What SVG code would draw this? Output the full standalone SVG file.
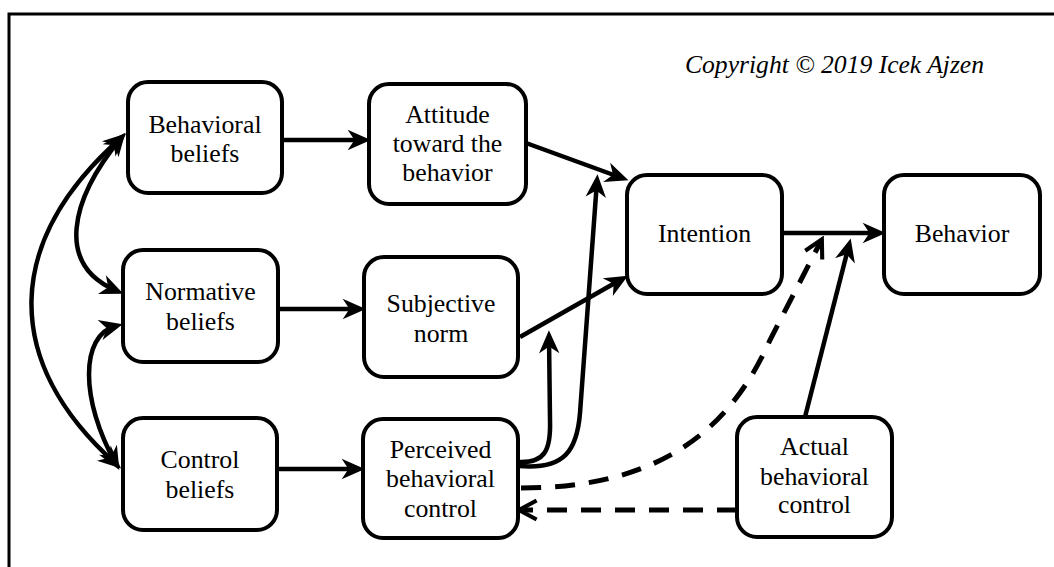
<svg xmlns="http://www.w3.org/2000/svg" width="1054" height="567" viewBox="0 0 1054 567">
<style>
.box{fill:#fff;stroke:#000;stroke-width:4}
.lbl{font-family:'Liberation Serif','Times New Roman',serif;font-size:25.8px;fill:#000;text-anchor:middle}
.c{fill:none;stroke:#000;stroke-width:4.5}
.d{fill:none;stroke:#000;stroke-width:5;stroke-dasharray:20 14}
</style>
<defs>
<marker id="ah" markerUnits="userSpaceOnUse" markerWidth="30" markerHeight="30" viewBox="-16 -10 22 20" refX="0" refY="0" orient="auto-start-reverse">
<path d="M5,0 L-12,-7.5 L-7,0 L-12,7.5 Z" fill="#000"/>
</marker>
<marker id="ao" markerUnits="userSpaceOnUse" markerWidth="30" markerHeight="30" viewBox="-16 -10 22 20" refX="0" refY="0" orient="auto">
<path d="M-10,-7 L3,0 L-10,7" fill="none" stroke="#000" stroke-width="3"/>
</marker>
</defs>
<rect width="1054" height="567" fill="#fff"/>
<rect x="9" y="14" width="1100" height="600" fill="none" stroke="#000" stroke-width="3"/>
<text x="685" y="73" font-family="Liberation Serif, Times New Roman, serif" font-style="italic" font-size="25.6" fill="#000">Copyright © 2019 Icek Ajzen</text>
<g id="connectors">
<line class="c" x1="282" y1="140" x2="364" y2="140" marker-end="url(#ah)"/>
<line class="c" x1="278" y1="309" x2="359" y2="309" marker-end="url(#ah)"/>
<line class="c" x1="277" y1="469" x2="358" y2="469" marker-end="url(#ah)"/>
<line class="c" x1="526" y1="143" x2="622" y2="178" marker-end="url(#ah)"/>
<line class="c" x1="520" y1="337" x2="622" y2="279" marker-end="url(#ah)"/>
<line class="c" x1="782" y1="233" x2="879" y2="233" marker-end="url(#ah)"/>
<line class="c" x1="805" y1="417" x2="849" y2="245" marker-end="url(#ah)"/>
<path class="c" d="M519,462 C545,463 551,450 550,420 L549,337" marker-end="url(#ah)"/>
<path class="c" d="M519,466 C565,470 577,450 580,413 L597,181" marker-end="url(#ah)"/>
<path class="c" d="M121,138 C70,200 55,265 117,291" marker-start="url(#ah)" marker-end="url(#ah)"/>
<path class="c" d="M121,138 C5,240 0,360 116,464" marker-start="url(#ah)" marker-end="url(#ah)"/>
<path class="c" d="M116,326 C80,335 80,400 116,464" marker-start="url(#ah)" marker-end="url(#ah)"/>
<path class="d" d="M521,488 C660,488 730,430 770,340 L820,243" marker-end="url(#ao)"/>
<line class="d" x1="737" y1="510" x2="523" y2="510" marker-end="url(#ao)"/>
</g>
<g id="behavioral-beliefs"><rect class="box" x="128" y="82" width="154" height="111" rx="20"/><text class="lbl" x="205" y="133">Behavioral</text><text class="lbl" x="205" y="162">beliefs</text></g>
<g id="normative-beliefs"><rect class="box" x="123" y="250" width="155" height="112" rx="20"/><text class="lbl" x="200.5" y="300">Normative</text><text class="lbl" x="200.5" y="330">beliefs</text></g>
<g id="control-beliefs"><rect class="box" x="123" y="418" width="154" height="112" rx="20"/><text class="lbl" x="200" y="468">Control</text><text class="lbl" x="200" y="498">beliefs</text></g>
<g id="attitude"><rect class="box" x="369" y="84" width="157" height="120" rx="20"/><text class="lbl" x="447.5" y="123">Attitude</text><text class="lbl" x="447.5" y="152">toward the</text><text class="lbl" x="447.5" y="181">behavior</text></g>
<g id="subjective-norm"><rect class="box" x="364" y="257" width="154" height="120" rx="20"/><text class="lbl" x="441" y="312">Subjective</text><text class="lbl" x="441" y="342">norm</text></g>
<g id="perceived-control"><rect class="box" x="363" y="419" width="155" height="119" rx="20"/><text class="lbl" x="440.5" y="458">Perceived</text><text class="lbl" x="440.5" y="487">behavioral</text><text class="lbl" x="440.5" y="517">control</text></g>
<g id="intention"><rect class="box" x="627" y="175" width="155" height="119" rx="20"/><text class="lbl" x="704.5" y="242">Intention</text></g>
<g id="behavior"><rect class="box" x="884" y="175" width="156" height="119" rx="20"/><text class="lbl" x="962" y="242">Behavior</text></g>
<g id="actual-control"><rect class="box" x="737" y="417" width="155" height="120" rx="20"/><text class="lbl" x="814.5" y="455">Actual</text><text class="lbl" x="814.5" y="485">behavioral</text><text class="lbl" x="814.5" y="513">control</text></g>
</svg>
